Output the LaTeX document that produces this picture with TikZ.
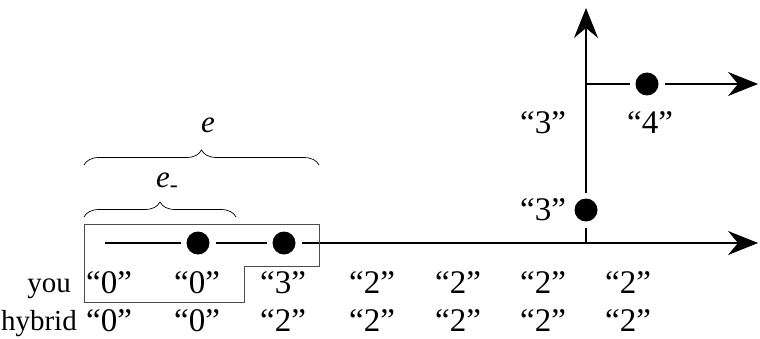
\documentclass[tikz,border=0pt]{standalone}
\usepackage{fontspec}
\setmainfont{Liberation Serif}
\usetikzlibrary{arrows.meta,decorations.pathreplacing}
\begin{document}
\begin{tikzpicture}[x=1pt,y=1pt,
  ln/.style={line width=1.1pt},
  arr/.style={ln,-{Stealth[length=30pt,width=24pt,inset=10pt]}},
  dot/.style={circle,fill=black,inner sep=0pt,minimum size=23pt,outer sep=6pt},
  q/.style={font=\fontsize{33}{33}\selectfont,inner sep=0pt,anchor=base},
  lab/.style={font=\fontsize{29}{29}\selectfont,inner sep=0pt,anchor=base east},
  it/.style={font=\fontsize{31}{31}\selectfont\itshape,inner sep=0pt,anchor=base},
  br/.style={line width=0.7pt,decorate,decoration={brace,amplitude=15pt}},
  box/.style={line width=0.9pt,draw=black!70}]
\useasboundingbox (0,0) rectangle (760,338);
% main line
\coordinate (start) at (105,95);
\node[dot] (d1) at (198,95) {};
\node[dot] (d2) at (284,95) {};
\coordinate (junc) at (586,95);
\coordinate (end) at (758,95);
\draw[ln] (start) -- (d1);
\draw[ln] (d1) -- (d2);
\draw[ln] (d2) -- (junc);
\draw[arr] (junc) -- (end);
% vertical
\node[dot] (d3) at (586,128) {};
\coordinate (top) at (586,330);
\coordinate (branch) at (586,254);
\node[dot] (d4) at (647,254) {};
\coordinate (end2) at (758,254);
\draw[ln] (junc) -- (d3);
\draw[arr] (d3) -- (top);
\draw[ln] (branch) -- (d4);
\draw[arr] (d4) -- (end2);
% box
\draw[box] (84,114) -- (319,114) -- (319,72) -- (244,72) -- (244,36) -- (84,36) -- cycle;
% braces
\draw[br] (84,173) -- (319,173);
\draw[br] (84,121) -- (236,121);
\node[it] (le) at (208,206) {e};
\node[it,anchor=base west] (lem) at (156,151) {e\raisebox{-5pt}{\upshape\fontsize{24}{24}\selectfont -}};
% rows
\node[lab] (you) at (71,46) {you};
\node[lab] (hyb) at (77,8) {hybrid};
\foreach \x/\v [count=\i] in {109/0,197/0,283/3,372/2,458/2,543/2,628/2}
  \node[q] (y\i) at (\x,45) {“\v”};
\foreach \x/\v [count=\i] in {109/0,197/0,283/2,372/2,458/2,543/2,628/2}
  \node[q] (h\i) at (\x,7) {“\v”};
\node[q] (t1) at (543,205) {“3”};
\node[q] (t2) at (650,205) {“4”};
\node[q] (t3) at (543,118) {“3”};
\end{tikzpicture}
\end{document}
